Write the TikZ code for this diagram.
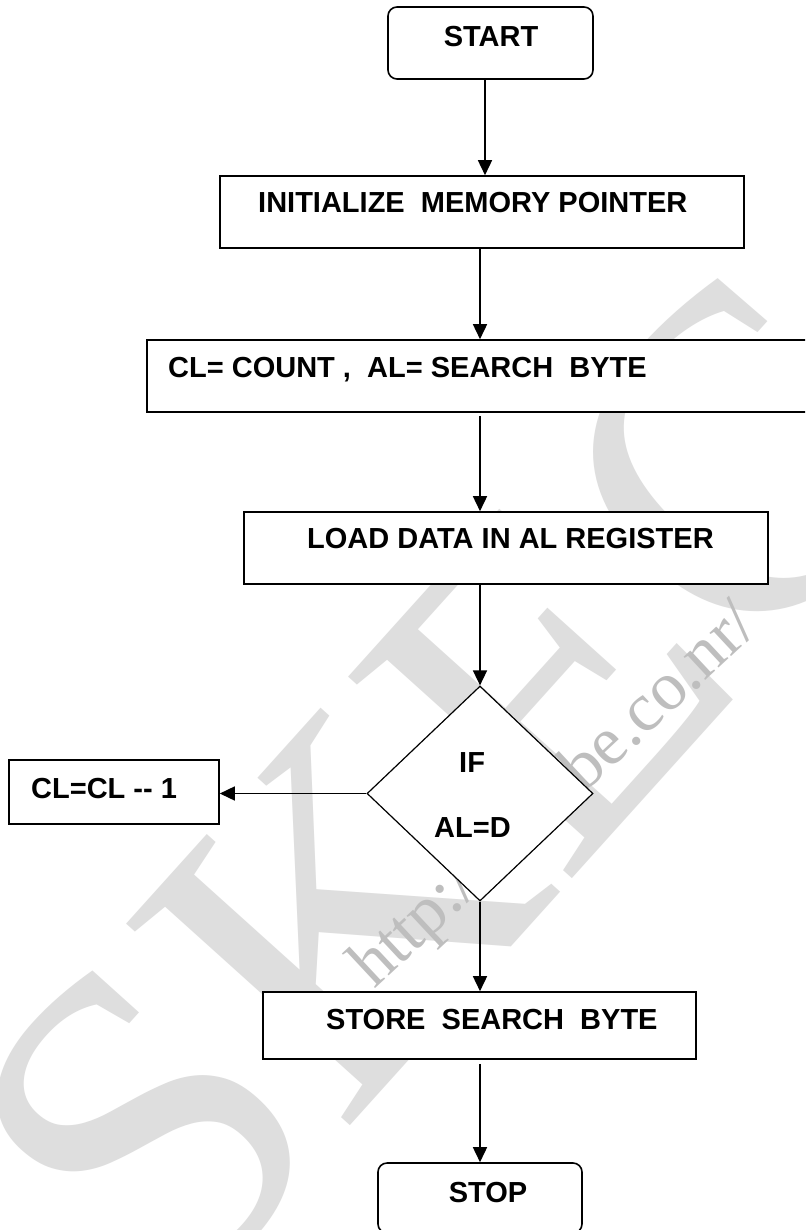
\documentclass[tikz,border=0pt]{standalone}
\usepackage{fontspec}
\setmainfont{Liberation Sans}
\newfontfamily\wmfont{Liberation Serif}
\usetikzlibrary{shapes.geometric,arrows.meta}
\definecolor{wmgray}{RGB}{222,222,222}
\definecolor{urlgray}{RGB}{190,190,190}

\begin{document}
\begin{tikzpicture}[x=1pt,y=-1pt,
  box/.style={draw,line width=1.6pt,fill=white,inner sep=0pt},
  termbox/.style={box,rounded corners=9pt},
  decision/.style={draw,diamond,line width=1.2pt,fill=white,inner sep=0pt},
  lbl/.style={font=\bfseries\fontsize{29}{29}\selectfont,inner sep=0pt,anchor=base west},
  arr/.style={line width=1.6pt,-{Triangle[length=15pt,width=14pt]}}]

\useasboundingbox (0,0) rectangle (805,1230);
\fill[white] (0,0) rectangle (805,1230);
\clip (0,0) rectangle (805,1230);

% watermark
\node[text=wmgray,inner sep=0pt,rotate=48,font=\wmfont\fontsize{460}{460}\selectfont]
  (wm) at (452,788) {SKEC};
\node[text=urlgray,inner sep=0pt,anchor=base west,rotate=43,font=\wmfont\fontsize{69}{69}\selectfont]
  (url) at (374,990) {http://skecbe.co.nr/};

% flowchart shapes
\node[termbox,minimum width=205pt,minimum height=72pt] (start) at (490.5,43) {};
\node[box,minimum width=524pt,minimum height=72pt] (init) at (482,212) {};
\node[box,minimum width=663pt,minimum height=72pt] (count) at (478.5,376) {};
\node[box,minimum width=524pt,minimum height=72pt] (load) at (506,548) {};
\node[decision,minimum width=226pt,minimum height=215pt] (test) at (480,793.5) {};
\node[box,minimum width=210pt,minimum height=64pt] (dec) at (114,792) {};
\node[box,minimum width=433pt,minimum height=67pt] (store) at (479.5,1025.5) {};
\node[termbox,minimum width=204pt,minimum height=70pt] (stop) at (480,1198) {};

% labels
\node[lbl,anchor=base] (tstart) at (491,47) {START};
\node[lbl] (tinit) at (258,213) {INITIALIZE\ \ MEMORY POINTER};
\node[lbl] (tcount) at (168,377) {CL= COUNT ,\ \ AL= SEARCH\ \ BYTE};
\node[lbl] (tload) at (307,548) {LOAD DATA IN AL REGISTER};
\node[lbl] (tif) at (459,772) {IF};
\node[lbl] (tcond) at (434,837) {AL=D};
\node[lbl] (tdec) at (31,798) {CL=CL {-}{-} 1};
\node[lbl] (tstore) at (326,1029) {STORE\ \ SEARCH\ \ BYTE};
\node[lbl,anchor=base] (tstop) at (488,1202) {STOP};

% connectors
\coordinate (spineA) at (485,0);
\coordinate (spine) at (480,0);
\draw[arr] (start.south -| spineA) -- (init.north -| spineA);
\draw[arr] (init.south -| spine) -- (count.north -| spine);
\draw[arr] ([yshift=-3pt]count.south -| spine) -- (load.north -| spine);
\draw[arr] (load.south -| spine) -- (test.north);
\draw[arr] (test.west) -- (test.west -| dec.east);
\draw[arr] (test.south) -- (store.north -| spine);
\draw[arr] ([yshift=-4pt]store.south -| spine) -- (stop.north -| spine);
\end{tikzpicture}
\end{document}
